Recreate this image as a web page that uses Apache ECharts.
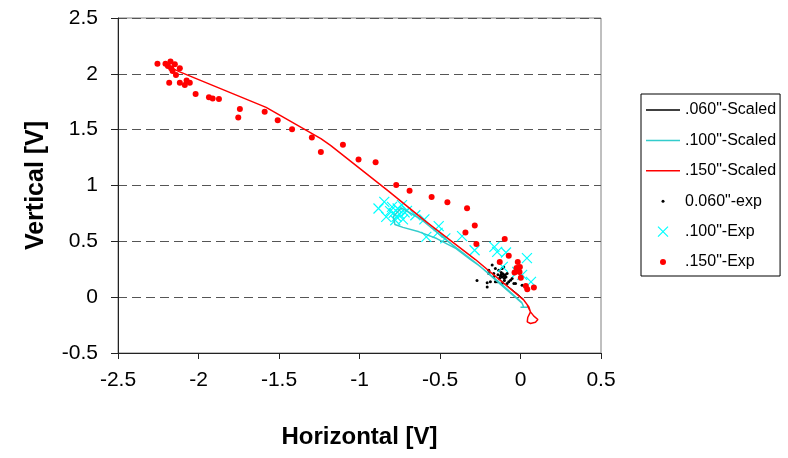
<!DOCTYPE html>
<html>
<head>
<meta charset="utf-8">
<script src="https://cdn.jsdelivr.net/npm/echarts@6/dist/echarts.min.js"></script>
<style>
  html, body { margin: 0; padding: 0; background: #fff; }
  #main { width: 788px; height: 458px; }
</style>
</head>
<body>
<div id="main"></div>
<script>
// tick labels
var xTicks = [-2.5, -2, -1.5, -1, -0.5, 0, 0.5];
var yTicks = [-0.5, 0, 0.5, 1, 1.5, 2, 2.5];

// scaled model curves [horizontal, vertical]
var scaled060 = [[-0.14, 0.17], [-0.08, 0.10], [-0.02, 0.03], [0.02, -0.02]];
var scaled100 = [
  [0.01, -0.05], [-0.12, 0.12], [-0.28, 0.31], [-0.45, 0.50], [-0.62, 0.70], [-0.74, 0.80],
  [-0.79, 0.72], [-0.78, 0.65], [-0.73, 0.625], [-0.63, 0.585], [-0.52, 0.525], [-0.40, 0.435],
  [-0.31, 0.335], [-0.25, 0.275], [-0.12, 0.11], [0.01, -0.055], [0.02, -0.09], [0.045, -0.09], [0.0, -0.09]
];
var scaled150 = [
  [-2.22, 2.09], [-2.12, 2.02], [-1.58, 1.70], [-1.24, 1.42], [-1.18, 1.36], [-0.82, 0.95],
  [-0.585, 0.674], [-0.28, 0.337], [0.021, -0.027], [0.052, -0.087], [0.062, -0.132], [0.083, -0.17],
  [0.108, -0.20], [0.093, -0.224], [0.062, -0.236], [0.042, -0.221], [0.045, -0.182], [0.062, -0.132], [0.042, -0.072]
];

// experimental points
var exp060 = [
  [-0.27, 0.15], [-0.207, 0.092], [-0.207, 0.13], [-0.197, 0.212], [-0.197, 0.24], [-0.187, 0.137],
  [-0.176, 0.287], [-0.166, 0.182], [-0.166, 0.212], [-0.156, 0.257], [-0.156, 0.137], [-0.145, 0.137],
  [-0.135, 0.242], [-0.125, 0.19], [-0.12, 0.2], [-0.115, 0.18], [-0.11, 0.21], [-0.105, 0.19],
  [-0.1, 0.17], [-0.095, 0.2], [-0.114, 0.257], [-0.114, 0.122], [-0.104, 0.271], [-0.09, 0.18],
  [-0.083, 0.212], [-0.083, 0.122], [-0.073, 0.137], [-0.062, 0.152], [-0.052, 0.167], [-0.041, 0.122],
  [-0.031, 0.122], [0.01, 0.107], [-0.13, 0.17], [-0.12, 0.22], [-0.1, 0.15], [-0.14, 0.2]
];
var exp100 = [
  [-0.882, 0.794], [-0.846, 0.853], [-0.834, 0.719], [-0.81, 0.77], [-0.798, 0.809], [-0.788, 0.755],
  [-0.778, 0.689], [-0.77, 0.72], [-0.763, 0.794], [-0.751, 0.743], [-0.736, 0.824], [-0.73, 0.696],
  [-0.72, 0.76], [-0.705, 0.773], [-0.653, 0.734], [-0.597, 0.696], [-0.508, 0.636], [-0.515, 0.576],
  [-0.585, 0.54], [-0.467, 0.526], [-0.363, 0.546], [-0.285, 0.42], [-0.162, 0.45], [-0.145, 0.405],
  [-0.09, 0.40], [0.04, 0.35], [-0.11, 0.271], [-0.02, 0.225], [0.01, 0.20], [0.065, 0.137]
];
var exp150 = [
  [-2.255, 2.09], [-2.205, 2.09], [-2.174, 2.11], [-2.147, 2.086], [-2.19, 2.07], [-2.17, 2.05],
  [-2.116, 2.05], [-2.161, 2.026], [-2.14, 1.99], [-2.182, 1.92], [-2.116, 1.92], [-2.085, 1.90],
  [-2.074, 1.94], [-2.054, 1.92], [-2.018, 1.82], [-1.935, 1.79], [-1.912, 1.78], [-1.873, 1.775],
  [-1.753, 1.61], [-1.743, 1.686], [-1.589, 1.66], [-1.508, 1.585], [-1.419, 1.504], [-1.296, 1.43],
  [-1.24, 1.30], [-1.103, 1.364], [-1.006, 1.233], [-0.90, 1.209], [-0.772, 1.005], [-0.689, 0.952],
  [-0.552, 0.898], [-0.454, 0.851], [-0.332, 0.797], [-0.284, 0.642], [-0.342, 0.579], [-0.274, 0.477],
  [-0.098, 0.52], [-0.073, 0.37], [-0.129, 0.316], [-0.017, 0.316], [-0.025, 0.262], [-0.004, 0.271],
  [-0.037, 0.221], [-0.006, 0.226], [0.002, 0.173], [0.033, 0.10], [0.042, 0.07], [0.083, 0.087]
];

var FONT = 'Liberation Sans, Arial, sans-serif';
var CROSS = 'path://M0,0L10,10M10,0L0,10';
// legend icons: invisible corner moves keep the icon box fixed so the mark stays small
var LINE_THIN = 'path://M0,0M34,14M0,6.3L34,6.3L34,7.7L0,7.7Z';
var LINE_MED = 'path://M0,0M34,14M0,6.25L34,6.25L34,7.75L0,7.75Z';

var myChart = echarts.init(document.getElementById('main'));

var option = {
  animation: false,
  backgroundColor: '#fff',
  grid: {
    left: 118, top: 18, right: 187, bottom: 105,
    show: true, borderColor: '#808080', borderWidth: 1
  },
  xAxis: {
    type: 'value',
    min: xTicks[0], max: xTicks[xTicks.length - 1], interval: xTicks[1] - xTicks[0],
    axisLine: { onZero: false, lineStyle: { color: '#222', width: 1 } },
    axisTick: { length: 6, lineStyle: { color: '#222' } },
    splitLine: { show: false },
    axisLabel: { fontSize: 21, color: '#000', fontFamily: FONT, margin: 17 },
    name: 'Horizontal [V]', nameLocation: 'middle', nameGap: 72,
    nameTextStyle: { fontSize: 24, fontWeight: 'bold', color: '#000', fontFamily: FONT }
  },
  yAxis: {
    type: 'value',
    min: yTicks[0], max: yTicks[yTicks.length - 1], interval: yTicks[1] - yTicks[0],
    axisLine: { show: true, onZero: false, lineStyle: { color: '#222', width: 1 } },
    axisTick: { show: true, length: 7, lineStyle: { color: '#222' } },
    splitLine: { show: true, lineStyle: { color: '#555', type: [9, 5], width: 1 } },
    axisLabel: { fontSize: 21, color: '#000', fontFamily: FONT, margin: 20 },
    name: 'Vertical [V]', nameLocation: 'middle', nameGap: 69,
    nameTextStyle: { fontSize: 25, fontWeight: 'bold', color: '#000', fontFamily: FONT }
  },
  legend: {
    orient: 'vertical',
    left: 641, top: 94,
    padding: [8, 4, 6, 5],
    itemGap: 14.4, itemWidth: 34, itemHeight: 14,
    borderColor: '#000', borderWidth: 1,
    textStyle: { fontSize: 16, color: '#000', fontFamily: FONT },
    data: [
      { name: '.060"-Scaled', icon: LINE_THIN, itemStyle: { color: '#000', borderWidth: 0 } },
      { name: '.100"-Scaled', icon: LINE_MED, itemStyle: { color: '#33CCCC', borderWidth: 0 } },
      { name: '.150"-Scaled', icon: LINE_MED, itemStyle: { color: '#FF0000', borderWidth: 0 } },
      { name: '0.060"-exp', icon: 'path://M0,0M14,14M7,7m-1.5,0a1.5,1.5,0,1,0,3,0a1.5,1.5,0,1,0,-3,0' },
      { name: '.100"-Exp', icon: 'path://M0,0M14,14M2,2L12,12M12,2L2,12',
        itemStyle: { color: 'rgba(0,0,0,0)', borderColor: '#00FFFF', borderWidth: 1.2 } },
      { name: '.150"-Exp', icon: 'path://M0,0M14,14M7,7m-3,0a3,3,0,1,0,6,0a3,3,0,1,0,-6,0' }
    ]
  },
  series: [
    {
      name: '.060"-Scaled', type: 'line', data: scaled060, symbol: 'none',
      lineStyle: { color: '#000', width: 1 }, itemStyle: { color: '#000' }
    },
    {
      name: '.100"-Scaled', type: 'line', data: scaled100, symbol: 'none',
      lineStyle: { color: '#33CCCC', width: 1.5 }, itemStyle: { color: '#33CCCC' }
    },
    {
      name: '.150"-Scaled', type: 'line', data: scaled150, symbol: 'none',
      lineStyle: { color: '#FF0000', width: 1.5 }, itemStyle: { color: '#FF0000' }
    },
    {
      name: '0.060"-exp', type: 'scatter', data: exp060, symbol: 'circle', symbolSize: 3,
      itemStyle: { color: '#000', opacity: 1 }
    },
    {
      name: '.100"-Exp', type: 'scatter', data: exp100, symbol: CROSS, symbolSize: 10,
      itemStyle: { color: 'rgba(0,0,0,0)', borderColor: '#00FFFF', borderWidth: 1.2, opacity: 1 }
    },
    {
      name: '.150"-Exp', type: 'scatter', data: exp150, symbol: 'circle', symbolSize: 6,
      itemStyle: { color: '#FF0000', opacity: 1 }
    }
  ]
};

myChart.setOption(option);
</script>
</body>
</html>
